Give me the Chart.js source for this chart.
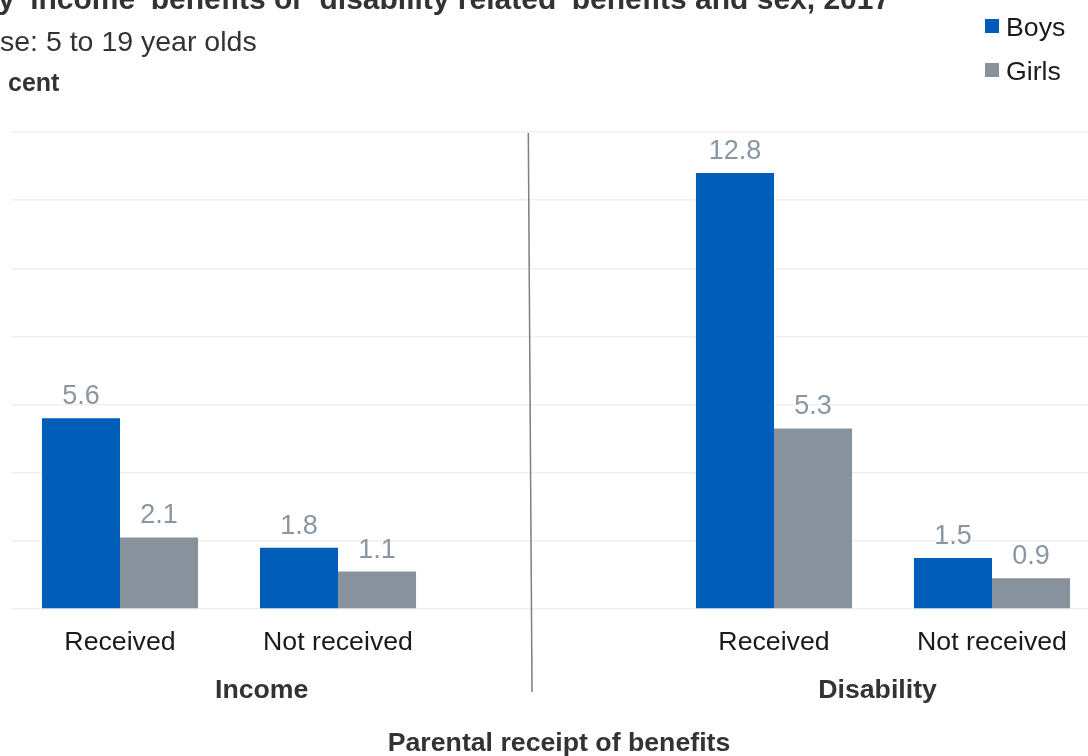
<!DOCTYPE html>
<html>
<head>
<meta charset="utf-8">
<script src="https://cdn.jsdelivr.net/npm/chart.js@4/dist/chart.umd.min.js"></script>
<style>
  html, body { margin: 0; padding: 0; background: #ffffff; overflow: hidden; width: 1088px; height: 756px; }
  #wrap { position: absolute; left: 0; top: 0; width: 1110px; height: 756px; }
</style>
</head>
<body>
<div id="wrap"><canvas id="c" width="1110" height="756"></canvas></div>
<script>
// ---- data ----
const categories = ['Received', 'Not received', '', 'Received', 'Not received'];
const groups = ['Income', 'Disability'];
const seriesNames = ['Boys', 'Girls'];
const boysValues = [5.6, 1.8, null, 12.8, 1.5];
const girlsValues = [2.1, 1.1, null, 5.3, 0.9];
const yTicks = [0, 2, 4, 6, 8, 10, 12, 14];
const titleText = "Percentage of 5 to 19 year olds with a mental disorder, by 'income' benefits or 'disability related' benefits and sex, 2017";
const subtitleText = 'Base: 5 to 19 year olds';
const unitText = 'Per cent';
const axisTitle = 'Parental receipt of benefits';

// ---- styles ----
const FONT = '"Liberation Sans", Arial, sans-serif';
const BLUE = '#005EB8';
const GREY = '#87929D';
const LABEL_GREY = '#8A96A2';

const decor = {
  id: 'decor',
  afterDatasetsDraw(chart) {
    const ctx = chart.ctx;
    const xs = chart.scales.x;
    ctx.save();
    // data labels
    ctx.font = '27px ' + FONT;
    ctx.fillStyle = LABEL_GREY;
    ctx.textAlign = 'center';
    ctx.textBaseline = 'alphabetic';
    chart.data.datasets.forEach((ds, di) => {
      const meta = chart.getDatasetMeta(di);
      meta.data.forEach((bar, i) => {
        const v = ds.data[i];
        if (v === null || v === undefined) return;
        ctx.fillText(v.toFixed(1), bar.x, bar.y - 14);
      });
    });
    // separator line
    ctx.strokeStyle = '#7F7F7F';
    ctx.lineWidth = 1.5;
    ctx.beginPath();
    ctx.moveTo(xs.getPixelForValue(1.873), 133);
    ctx.lineTo(xs.getPixelForValue(1.89), 692);
    ctx.stroke();
    // group labels
    ctx.font = 'bold 26.7px ' + FONT;
    ctx.fillStyle = '#333333';
    ctx.textAlign = 'center';
    ctx.fillText(groups[0], xs.getPixelForValue(0.65), 698);
    ctx.fillText(groups[1], xs.getPixelForValue(3.475), 698);
    // axis title
    ctx.fillText(axisTitle, 559, 751);
    // title (cropped at top-left)
    ctx.textAlign = 'left';
    ctx.font = 'bold 30px ' + FONT;
    const cut = titleText.indexOf("y 'income'");
    const pre = titleText.slice(0, cut);
    ctx.fillText(titleText, -2 - ctx.measureText(pre).width, 9);
    // subtitle
    ctx.font = '28.5px ' + FONT;
    ctx.fillStyle = '#333333';
    ctx.fillText(subtitleText, 0 - ctx.measureText('Ba').width, 51);
    // unit (its start is cropped off by the left edge)
    ctx.font = 'bold 25px ' + FONT;
    ctx.save();
    ctx.beginPath();
    ctx.rect(5, 60, 200, 40);
    ctx.clip();
    ctx.fillText(unitText, 8 - ctx.measureText('Per ').width, 91);
    ctx.restore();
    // legend
    const colors = [BLUE, GREY];
    ctx.font = '26.7px ' + FONT;
    seriesNames.forEach((n, i) => {
      const y = 19 + i * 44;
      ctx.fillStyle = colors[i];
      ctx.fillRect(985, y, 14, 14);
      ctx.fillStyle = '#1A1A1A';
      ctx.fillText(n, 1006, y + 17);
    });
    ctx.restore();
  }
};

new Chart(document.getElementById('c'), {
  type: 'bar',
  data: {
    labels: categories,
    datasets: [
      { label: seriesNames[0], data: boysValues, backgroundColor: BLUE, categoryPercentage: 0.716, barPercentage: 1.0 },
      { label: seriesNames[1], data: girlsValues, backgroundColor: GREY, categoryPercentage: 0.716, barPercentage: 1.0 }
    ]
  },
  options: {
    responsive: false,
    animation: false,
    layout: { padding: { left: 11, right: 9, top: 132, bottom: 0 } },
    plugins: { legend: { display: false }, title: { display: false }, tooltip: { enabled: false } },
    scales: {
      x: {
        grid: { display: false, drawTicks: false },
        border: { display: false },
        ticks: { color: '#1A1A1A', font: { family: FONT, size: 26.7 }, padding: 18, maxRotation: 0, autoSkip: false },
        afterFit(scale) { scale.height = 756 - 609; }
      },
      y: {
        min: 0, max: 14,
        afterBuildTicks(scale) { scale.ticks = yTicks.map(v => ({ value: v })); },
        ticks: { display: false },
        grid: { color: '#EFEFEF', lineWidth: 1.5, drawTicks: false },
        border: { display: false },
        afterFit(scale) { scale.width = 0; }
      }
    }
  },
  plugins: [decor]
});
</script>
</body>
</html>
